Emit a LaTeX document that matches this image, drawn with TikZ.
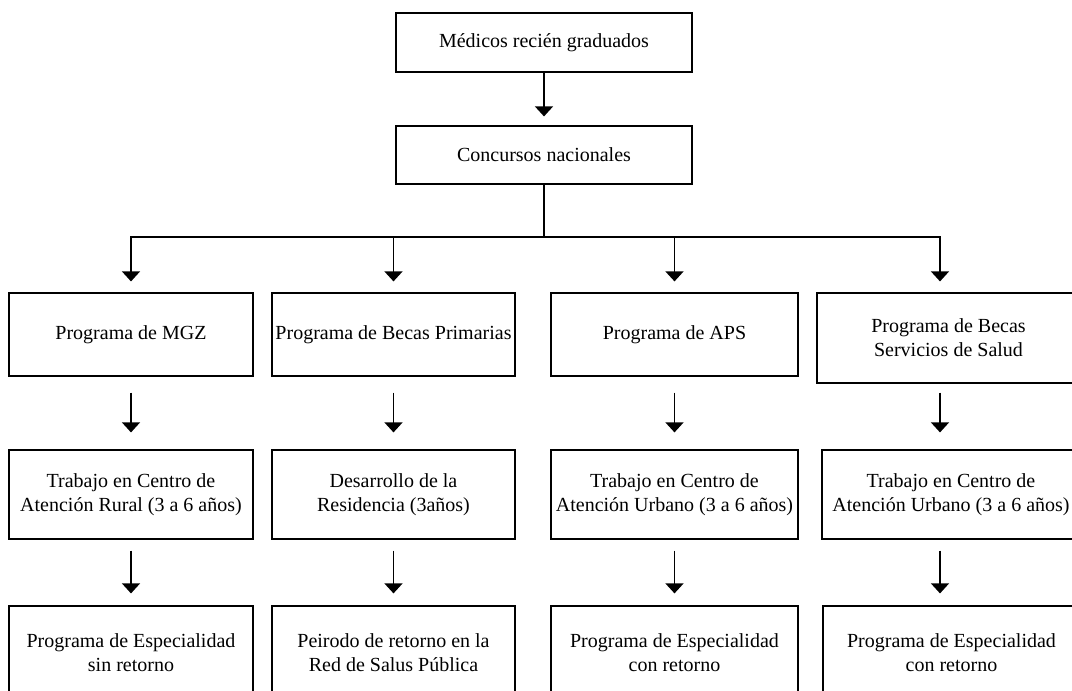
\documentclass[tikz,border=0pt]{standalone}
\usepackage{fontspec}
\setmainfont{Liberation Serif}
\usepackage{tikz}
\usetikzlibrary{arrows.meta}

\tikzset{
  caja/.style={draw, line width=0.6pt, align=center, inner sep=0pt,
    font=\fontsize{10pt}{12pt}\selectfont, minimum width=122pt, minimum height=#1},
  caja/.default=41.5pt,
  flecha/.style={line width=0.6pt, -{Triangle[width=9pt,length=5pt]}},
}

\begin{document}
\begin{tikzpicture}[x=0.5pt, y=-0.5pt]

  % Frame (cuts the right and bottom boxes as in the figure)
  \clip (0,0) rectangle (1072,691);

  % Define nodes
  \node[caja=29.5pt, minimum width=148pt] (medicos) at (544,42.5) {Médicos recién graduados};
  \node[caja=29pt, minimum width=148pt] (concursos) at (544,155) {Concursos nacionales};

  \node[caja] (mgz) at (131,334.5) {Programa de MGZ};
  \node[caja, minimum width=121.5pt] (becasp) at (393.5,334.5) {Programa de Becas Primarias};
  \node[caja, minimum width=123.5pt] (aps) at (674.5,334.5) {Programa de APS};
  \node[caja=45pt, minimum width=131.5pt] (becass) at (948.5,338) {Programa de Becas\\Servicios de Salud};

  \node[caja=44.5pt] (rural) at (131,494.5) {Trabajo en Centro de\\Atención Rural (3 a 6 años)};
  \node[caja=44.5pt, minimum width=121.5pt] (resid) at (393.5,494.5) {Desarrollo de la\\Residencia (3años)};
  \node[caja=44.5pt, minimum width=123.5pt] (urbano) at (674.5,494.5) {Trabajo en Centro de\\Atención Urbano (3 a 6 años)};
  \node[caja=44.5pt, minimum width=129pt] (urbanob) at (951,494.5) {Trabajo en Centro de\\Atención Urbano (3 a 6 años)};

  \node[caja=47pt] (espsin) at (131,653) {Programa de Especialidad\\sin retorno};
  \node[caja=47pt, minimum width=121.5pt] (retorno) at (393.5,653) {Peirodo de retorno en la\\Red de Salus Pública};
  \node[caja=47pt, minimum width=123.5pt] (espcon) at (674.5,653) {Programa de Especialidad\\con retorno};
  \node[caja=47pt, minimum width=128.5pt] (espconb) at (951.5,653) {Programa de Especialidad\\con retorno};

  \coordinate (bus) at (544,237);
  \coordinate (col4) at (940,0);

  % Connect nodes
  \draw[flecha, shorten >=4.5pt] (medicos) -- (concursos);

  \draw[flecha, shorten >=5.5pt] (concursos.south) -- (bus) -| (mgz.north);
  \draw[flecha, shorten >=5.5pt] (concursos.south) -- (bus) -| (becasp.north);
  \draw[flecha, shorten >=5.5pt] (concursos.south) -- (bus) -| (aps.north);
  \draw[flecha, shorten >=5.5pt] (concursos.south) -- (bus) -| (col4 |- becass.north);

  \draw[flecha, shorten <=8pt, shorten >=8.5pt] (mgz) -- (rural);
  \draw[flecha, shorten <=8pt, shorten >=8.5pt] (becasp) -- (resid);
  \draw[flecha, shorten <=8pt, shorten >=8.5pt] (aps) -- (urbano);
  \draw[flecha, shorten <=4.5pt, shorten >=8.5pt] (col4 |- becass.south) -- (col4 |- urbanob.north);

  \draw[flecha, shorten <=5.5pt, shorten >=6pt] (rural) -- (espsin);
  \draw[flecha, shorten <=5.5pt, shorten >=6pt] (resid) -- (retorno);
  \draw[flecha, shorten <=5.5pt, shorten >=6pt] (urbano) -- (espcon);
  \draw[flecha, shorten <=5.5pt, shorten >=6pt] (col4 |- urbanob.south) -- (col4 |- espconb.north);

\end{tikzpicture}
\end{document}
